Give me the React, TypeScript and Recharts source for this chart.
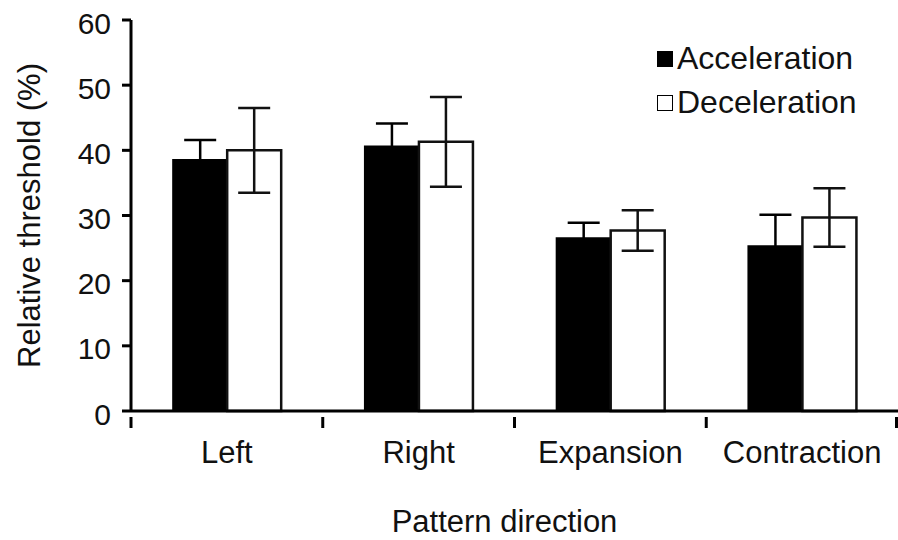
import { BarChart, Bar, XAxis, YAxis, ErrorBar, Label } from "recharts";

const categories = ["Left", "Right", "Expansion", "Contraction"];
const acceleration = [38.5, 40.6, 26.5, 25.3];
const accelerationErr = [3.1, 3.5, 2.4, 4.8];
const deceleration = [40.0, 41.3, 27.7, 29.7];
const decelerationErr = [6.5, 6.9, 3.1, 4.5];
const yTicks = [0, 10, 20, 30, 40, 50, 60];
const legendItems = [
  { label: "Acceleration", fill: "#000" },
  { label: "Deceleration", fill: "#fff" },
];

const FONT = '"Liberation Sans", Arial, Helvetica, sans-serif';

const data = categories.map((name, i) => ({
  name,
  acc: acceleration[i],
  accErr: accelerationErr[i],
  dec: deceleration[i],
  decErr: decelerationErr[i],
}));

// category ticks sit on the boundaries between groups, labels in the middle
function XTick(props: any) {
  const { x, y, payload, index, visibleTicksCount } = props;
  const half = payload?.offset || 96;
  const last = index === visibleTicksCount - 1;
  return (
    <g>
      <line x1={x - half} y1={y - 2} x2={x - half} y2={y + 9} stroke="#000" strokeWidth={3} />
      {last && <line x1={x + half - 1.5} y1={y - 2} x2={x + half - 1.5} y2={y + 9} stroke="#000" strokeWidth={3} />}
      <text x={x} y={y + 44} textAnchor="middle" fontSize={31} fontFamily={FONT} fill="#111">
        {payload.value}
      </text>
    </g>
  );
}

function LegendBox() {
  return (
    <div
      style={{
        position: "absolute",
        left: 657,
        top: 36,
        fontFamily: FONT,
        fontSize: 32,
        color: "#111",
        lineHeight: "44px",
      }}
    >
      {legendItems.map((it) => (
        <div key={it.label} style={{ display: "flex", alignItems: "center", height: 44 }}>
          <span
            style={{
              display: "inline-block",
              width: 14,
              height: 14,
              background: it.fill,
              border: "1.5px solid #000",
              marginRight: 4,
              marginTop: 1,
            }}
          />
          <span>{it.label}</span>
        </div>
      ))}
    </div>
  );
}

export default function App() {
  return (
    <div style={{ position: "absolute", left: 0, top: 0, width: 898, height: 540, background: "#fff" }}>
      <BarChart
        width={898}
        height={540}
        data={data}
        margin={{ top: 20, right: 0, bottom: 0, left: 0 }}
        barCategoryGap="22%"
        barGap={0}
      >
        <YAxis
          domain={[0, 60]}
          ticks={yTicks}
          width={131}
          axisLine={{ stroke: "#000", strokeWidth: 3 }}
          tickLine={{ stroke: "#000", strokeWidth: 3 }}
          tickSize={9}
          tickMargin={11}
          tick={{ fontSize: 30, fontFamily: FONT, fill: "#111", dy: 3 }}
        >
          <Label
            value="Relative threshold (%)"
            angle={-90}
            position="insideLeft"
            offset={29}
            style={{ textAnchor: "middle", fontSize: 31, fontFamily: FONT, fill: "#111" }}
          />
        </YAxis>
        <XAxis
          dataKey="name"
          height={129}
          axisLine={{ stroke: "#000", strokeWidth: 3 }}
          tickLine={false}
          tick={<XTick />}
          interval={0}
        >
          <Label
            content={({ viewBox }: any) => (
              <text
                x={viewBox.x + viewBox.width / 2 - 10}
                y={viewBox.y + 121}
                textAnchor="middle"
                fontSize={31}
                fontFamily={FONT}
                fill="#111"
              >
                Pattern direction
              </text>
            )}
          />
        </XAxis>
        <Bar dataKey="acc" fill="#000" stroke="#000" strokeWidth={2} isAnimationActive={false}>
          <ErrorBar dataKey="accErr" width={16} stroke="#000" strokeWidth={2.5} direction="y" />
        </Bar>
        <Bar dataKey="dec" fill="#fff" stroke="#111" strokeWidth={2.5} isAnimationActive={false}>
          <ErrorBar dataKey="decErr" width={16} stroke="#111" strokeWidth={2.5} direction="y" />
        </Bar>
      </BarChart>
      <LegendBox />
    </div>
  );
}
